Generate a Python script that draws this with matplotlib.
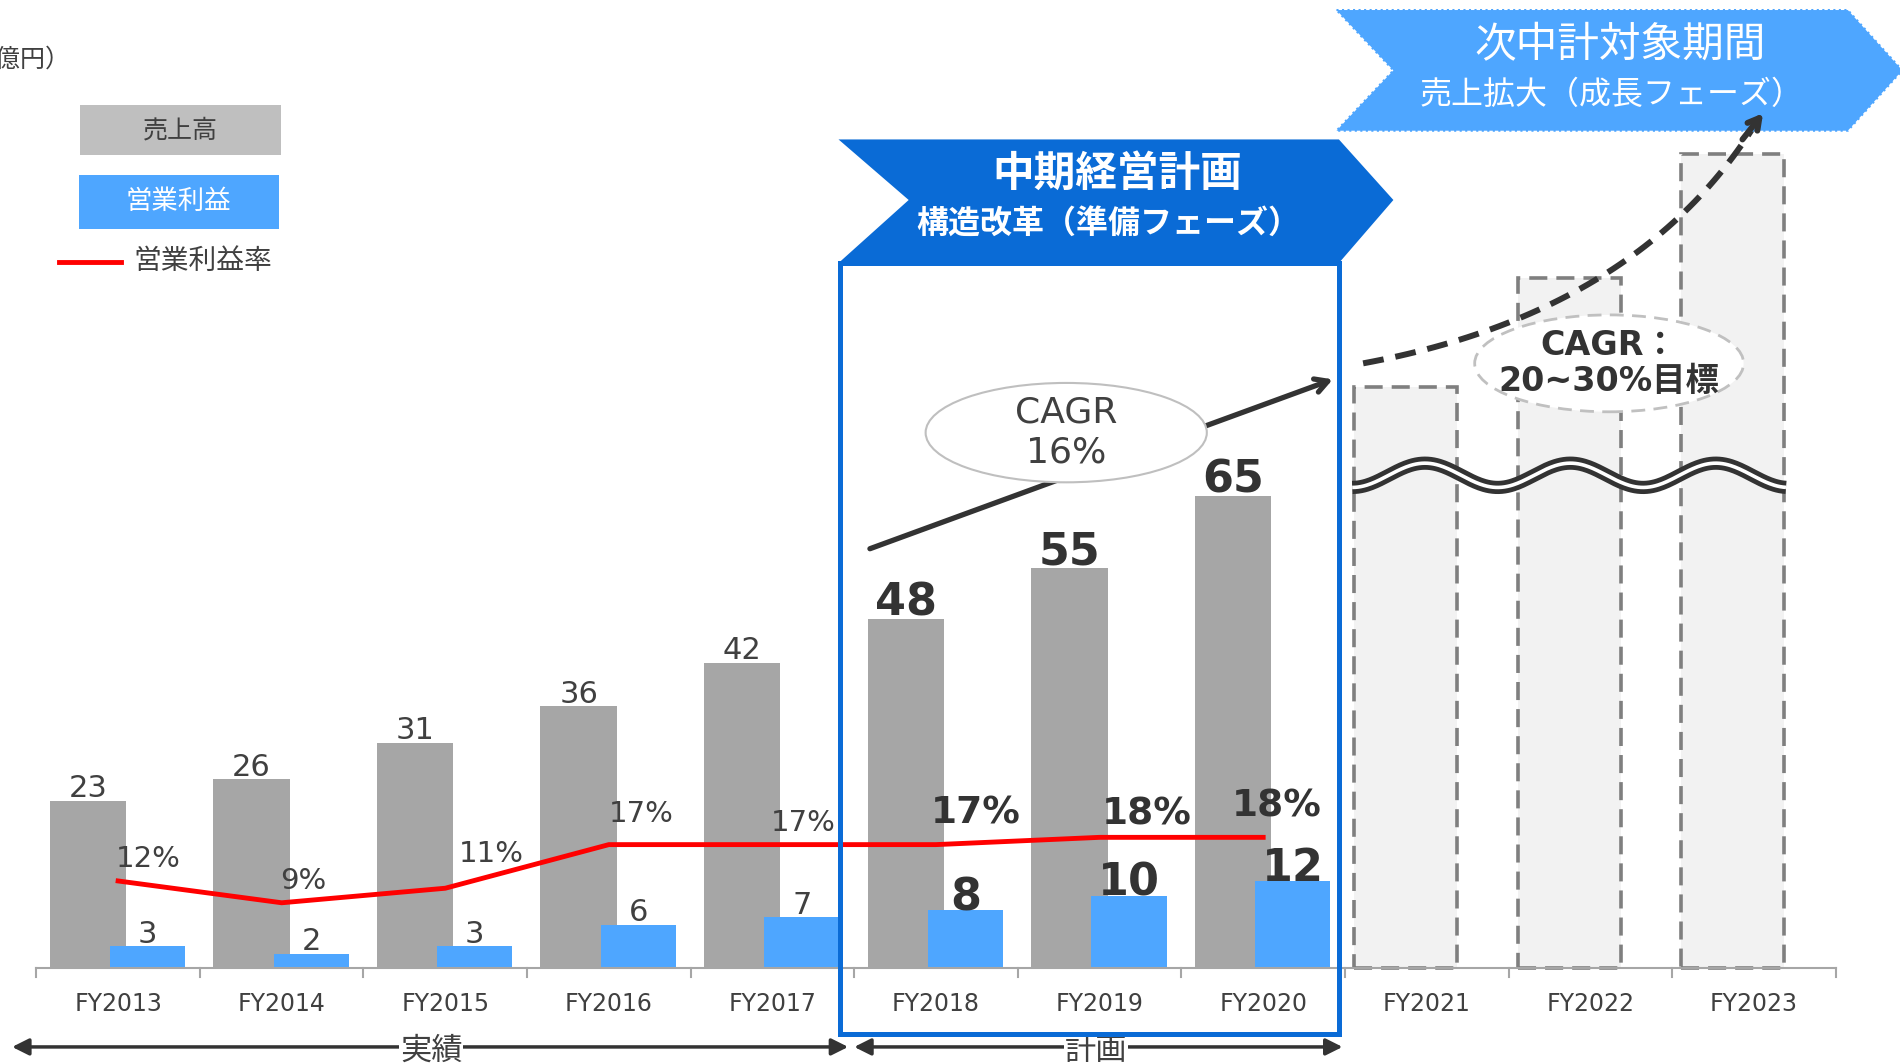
import matplotlib
matplotlib.use("Agg")
import matplotlib.pyplot as plt
import numpy as np
from matplotlib import font_manager
from matplotlib.patches import Polygon, Rectangle, Ellipse

plt.rcParams["font.family"] = ["DejaVu Sans", "Noto Sans CJK JP"]

# data (億円 / %)
years = ["FY2013", "FY2014", "FY2015", "FY2016", "FY2017", "FY2018",
         "FY2019", "FY2020", "FY2021", "FY2022", "FY2023"]
sales = [23, 26, 31, 36, 42, 48, 55, 65]
op_profit = [3, 2, 3, 6, 7, 8, 10, 12]
op_margin = [12, 9, 11, 17, 17, 17, 18, 18]
target_bars = [80, 95, 112]   # next plan, drawn beyond the axis break
n_actual = 5                  # FY2013-FY2017 results, FY2018-FY2020 plan

# label nudges for the margin line (category units, value units)
margin_dx = [0.185, 0.133, 0.28, 0.2, 0.19, 0.244, 0.29, 0.08]
margin_dy = [3.0, 3.0, 4.7, 4.2, 3.0, 4.3, 3.2, 4.3]

DARK = "#333333"
TEXT = "#404040"
GRAY = "#a6a6a6"
BLUE = "#4ea6ff"
NAVY = "#0a6bd6"
RED = "#ff0000"

available = {f.name for f in font_manager.fontManager.ttflist}
if "Liberation Sans Narrow" in available:
    tick_family, tick_size = ["Liberation Sans Narrow", "DejaVu Sans"], 21.5
else:
    tick_family, tick_size = ["DejaVu Sans"], 17

fig = plt.figure(figsize=(19, 10.63), dpi=100)
ax = fig.add_axes([0, 0, 1, 1])
ax.set_xlim(-0.722, 10.893)
ax.set_ylim(-13.04, 133.18)
ax.axis("off")

x = np.arange(len(sales))
ax.bar(x - 0.185, sales, width=0.467, color=GRAY, zorder=2)
ax.bar(x + 0.18, op_profit, width=0.46, color=BLUE, zorder=3)
xf = np.arange(len(sales), len(years))
ax.bar(xf - 0.13, target_bars, width=0.63, color="#f2f2f2", edgecolor="#7f7f7f",
       linewidth=2.6, linestyle=(0, (5, 2.5)), zorder=2)
ax.plot(x, op_margin, color=RED, lw=3.5, zorder=4)

for i in range(len(sales)):
    plan = i >= n_actual
    w = "bold" if plan else "normal"
    c = DARK if plan else TEXT
    ax.text(i - 0.185, sales[i] + 0.5, str(sales[i]), ha="center", va="baseline",
            fontsize=32 if plan else 22, fontweight=w, color=c, zorder=5)
    ax.text(i + 0.18, op_profit[i] + (0 if plan else 0.5), str(op_profit[i]),
            ha="center", va="baseline", fontsize=32 if plan else 22,
            fontweight=w, color=c, zorder=5)
    ax.text(i + margin_dx[i], op_margin[i] + margin_dy[i], f"{op_margin[i]}%",
            ha="center", va="center", fontsize=27 if plan else 21,
            fontweight=w, color=c, zorder=5)

# axis line, ticks and year labels
ax.plot([-0.5, len(years) - 0.5], [0, 0], color="#a6a6a6", lw=1.5, zorder=3)
for k in range(len(years) + 1):
    ax.plot([k - 0.5, k - 0.5], [0, -1.2], color="#a6a6a6", lw=1.5)
for i, yr in enumerate(years):
    ax.text(i, -4.9, yr, ha="center", va="center", color=TEXT,
            fontfamily=tick_family, fontsize=tick_size)

# period arrows
for x0, x1, label, xt in [(-0.648, 4.463, "実績", 1.915), (4.5, 7.485, "計画", 5.98)]:
    ax.annotate("", xy=(x1, -10.83), xytext=(x0, -10.83),
                arrowprops=dict(arrowstyle="<|-|>", mutation_scale=25, lw=2.5,
                                color=DARK, shrinkA=0, shrinkB=0))
    ax.text(xt, -11.4, label, ha="center", va="center", fontsize=22.5, color=TEXT,
            bbox=dict(fc="white", ec="none", pad=0.5), zorder=6)

# current plan frame
ax.add_patch(Rectangle((4.41, -9), 7.463 - 4.41, 106, fill=False, ec=NAVY,
                       lw=3.6, zorder=6))
ax.add_patch(Polygon([(4.404, 114), (7.463, 114), (7.796, 105.67), (7.463, 97),
                      (4.404, 97), (4.833, 105.67)], closed=True, fc=NAVY, ec="none",
                     zorder=6))
ax.text(6.107, 109.3, "中期経営計画", ha="center", va="center", color="white",
        fontsize=30, fontweight="bold", zorder=7)
ax.text(6.056, 102.2, "構造改革（準備フェーズ）", ha="center", va="center",
        color="white", fontsize=23, fontweight="bold", zorder=7)

# next plan banner
ax.add_patch(Polygon([(7.448, 131.8), (10.574, 131.8), (10.907, 123.5), (10.574, 115.2),
                      (7.448, 115.2), (7.796, 123.5)], closed=True, fc=BLUE, ec=BLUE,
                     lw=1.5, ls=":", zorder=6))
ax.text(9.18, 127.0, "次中計対象期間", ha="center", va="center", color="white",
        fontsize=30, zorder=7)
ax.text(9.13, 120.0, "売上拡大（成長フェーズ）", ha="center", va="center",
        color="white", fontsize=23, zorder=7)

# CAGR 16% arrow
ax.annotate("", xy=(7.426, 81), xytext=(4.596, 57.7),
            arrowprops=dict(arrowstyle="->,head_length=0.9,head_width=0.5", lw=3.8,
                            color=DARK, shrinkA=0, shrinkB=0), zorder=5)
ax.add_patch(Ellipse((5.796, 73.67), 1.719, 13.67, fc="white", ec="#bfbfbf", lw=1.5,
                     zorder=6))
ax.text(5.796, 73.67, "CAGR\n16%", ha="center", va="center", fontsize=26,
        color=TEXT, linespacing=1.2, zorder=7)

# dashed growth curve
p0, c, p2 = np.array([7.611, 83.2]), np.array([9.28, 90.15]), np.array([10.0, 115.8])
t = np.linspace(0, 1, 60)[:, None]
curve = (1 - t) ** 2 * p0 + 2 * t * (1 - t) * c + t ** 2 * p2
ax.plot(curve[:, 0], curve[:, 1], color=DARK, lw=4.3, ls=(0, (3.5, 2)), zorder=5)
ax.annotate("", xy=(10.056, 117.6), xytext=(9.93, 114.0),
            arrowprops=dict(arrowstyle="->,head_length=0.8,head_width=0.45", lw=4.3,
                            color=DARK, shrinkA=0, shrinkB=0), zorder=8)
ax.add_patch(Ellipse((9.115, 83.2), 1.644, 13.33, fc="white", ec="#c0c0c0", lw=2,
                     ls=(0, (5, 3)), zorder=6))
ax.text(9.115, 83.2, "CAGR：\n20~30%目標", ha="center", va="center", fontsize=24,
        fontweight="bold", color=DARK, linespacing=1.1, zorder=7)

# axis break wave
wx = np.linspace(7.544, 10.196, 300)
wy = 67.8 + 1.67 * np.cos(2 * np.pi * (wx - 7.989) / 0.889)
ax.plot(wx, wy, color=DARK, lw=9.5, solid_capstyle="butt", zorder=7)
ax.plot(wx, wy, color="white", lw=2.6, solid_capstyle="butt", zorder=8)

# legend
ax.text(-0.29, 125, "（億円）", ha="right", va="center", fontsize=18, color=TEXT)
ax.add_patch(Rectangle((-0.233, 111.83), 1.229, 6.84, fc="#bfbfbf", ec="none"))
ax.text(0.381, 115.25, "売上高", ha="center", va="center", fontsize=18, color=TEXT)
ax.add_patch(Rectangle((-0.241, 101.67), 1.222, 7.5, fc=BLUE, ec="none"))
ax.text(0.37, 105.4, "営業利益", ha="center", va="center", fontsize=19, color="white")
ax.plot([-0.359, 0.0185], [97.17, 97.17], color=RED, lw=3.5)
ax.text(0.093, 97.3, "営業利益率", ha="left", va="center", fontsize=20, color=TEXT)

fig.savefig("out.png", dpi=100)
